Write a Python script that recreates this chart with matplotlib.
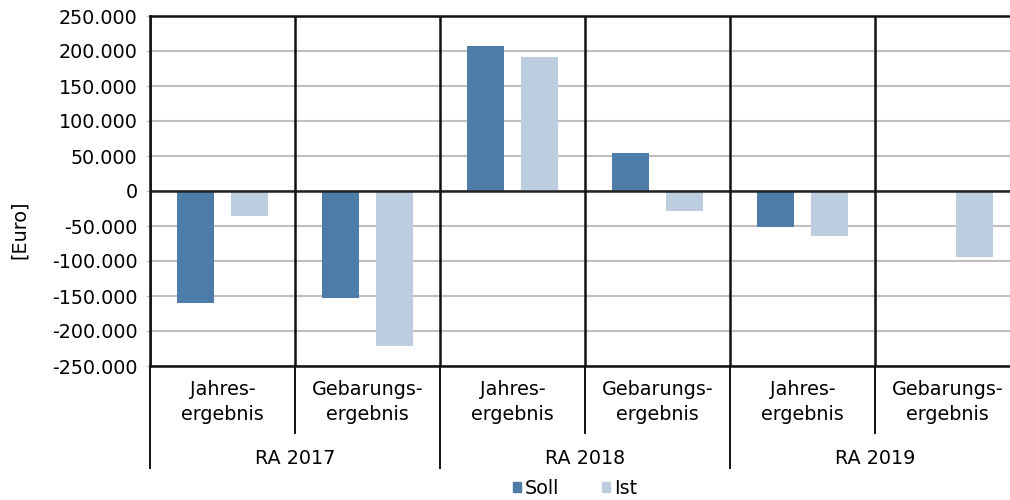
import numpy as np
import matplotlib
matplotlib.use("Agg")
import matplotlib.pyplot as plt
from matplotlib.patches import Patch
from matplotlib.ticker import FuncFormatter, MultipleLocator

# data
years = ["RA 2017", "RA 2018", "RA 2019"]
kinds = ["Jahres-\nergebnis", "Gebarungs-\nergebnis"]
soll = [-160000, -153000, 207000, 54000, -52000, -800]
ist = [-35000, -221000, 192000, -29000, -64000, -94000]

c_soll = "#4e7ca8"
c_ist = "#bccde0"

plt.rcParams["font.family"] = "DejaVu Sans"
plt.rcParams["font.size"] = 13.8

fig = plt.figure(figsize=(10.1, 5.0), dpi=100)
ax = fig.add_axes([150 / 1010, 1 - 366 / 500, 870 / 1010, 350 / 500])

x = np.arange(len(soll))
w = 0.25
off = 0.186
ax.bar(x - off, soll, w, color=c_soll, zorder=3)
ax.bar(x + off, ist, w, color=c_ist, zorder=3)

ax.set_xlim(-0.5, len(soll) - 0.5)
ax.set_ylim(-250000, 250000)
ax.yaxis.set_major_locator(MultipleLocator(50000))
ax.yaxis.set_major_formatter(FuncFormatter(lambda v, p: f"{v:,.0f}".replace(",", ".")))
ax.grid(axis="y", color="#bfbfbf", linewidth=1.5, zorder=0)
ax.axhline(0, color="#222222", linewidth=1.8, zorder=4)
ax.tick_params(axis="y", length=3, color="#bfbfbf", pad=6)
ax.set_xticks([])
for s in ["left", "top", "bottom"]:
    ax.spines[s].set_color("#111111")
    ax.spines[s].set_linewidth(1.8)
ax.spines["right"].set_visible(False)
ax.set_ylabel("[Euro]")
ax.yaxis.set_label_coords(-0.139, 0.389)

trans = ax.get_xaxis_transform()
for i in range(len(soll) + 1):
    xs = i - 0.5
    ax.axvline(xs, color="#111111", linewidth=1.8, zorder=4)
    low = -0.291 if i % 2 == 0 else -0.191
    ax.plot([xs, xs], [0, low], transform=trans, color="#111111",
            linewidth=1.4, clip_on=False)

for i in range(len(soll)):
    ax.text(i, -0.103, kinds[i % 2], transform=trans, ha="center", va="center",
            linespacing=1.35)
for j, yr in enumerate(years):
    ax.text(2 * j + 0.5, -0.263, yr, transform=trans, ha="center", va="center")

handles = [Patch(color=c_soll, label="Soll"), Patch(color=c_ist, label="Ist")]
fig.legend(handles=handles, loc="center", bbox_to_anchor=(575 / 1010, 1 - 488 / 500),
           ncol=2, frameon=False, handlelength=0.45, handleheight=0.45,
           handletextpad=0.2, columnspacing=2.2, borderaxespad=0)

fig.savefig("out.png", dpi=100)
